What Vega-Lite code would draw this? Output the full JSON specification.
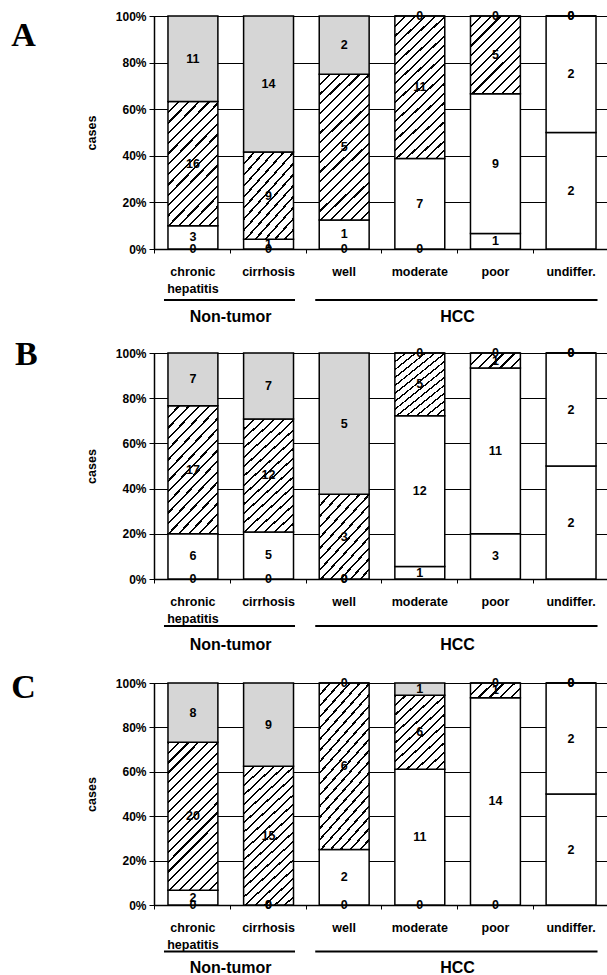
{
  "$schema": "https://vega.github.io/schema/vega-lite/v6.json",
  "padding": {"left": 10, "top": 9, "right": 0, "bottom": 0},
  "background": "white",
  "params": [
    {"name": "hT", "value": {"gradient": "linear", "x1": 0, "y1": 0, "x2": 1.19, "y2": 0.358, "stops": [
      {"offset": 0, "color": "#000"}, {"offset": 0.0367, "color": "#000"}, {"offset": 0.0367, "color": "#fff"}, {"offset": 0.1667, "color": "#fff"},
      {"offset": 0.1667, "color": "#000"}, {"offset": 0.2033, "color": "#000"}, {"offset": 0.2033, "color": "#fff"}, {"offset": 0.3333, "color": "#fff"},
      {"offset": 0.3333, "color": "#000"}, {"offset": 0.37, "color": "#000"}, {"offset": 0.37, "color": "#fff"}, {"offset": 0.5, "color": "#fff"},
      {"offset": 0.5, "color": "#000"}, {"offset": 0.5367, "color": "#000"}, {"offset": 0.5367, "color": "#fff"}, {"offset": 0.6667, "color": "#fff"},
      {"offset": 0.6667, "color": "#000"}, {"offset": 0.7033, "color": "#000"}, {"offset": 0.7033, "color": "#fff"}, {"offset": 0.8333, "color": "#fff"},
      {"offset": 0.8333, "color": "#000"}, {"offset": 0.87, "color": "#000"}, {"offset": 0.87, "color": "#fff"}, {"offset": 1, "color": "#fff"}]}},
    {"name": "hM", "value": {"gradient": "linear", "x1": 0, "y1": 0, "x2": 0.746, "y2": 1.163, "stops": [
      {"offset": 0, "color": "#000"}, {"offset": 0.0169, "color": "#000"}, {"offset": 0.0169, "color": "#fff"}, {"offset": 0.0769, "color": "#fff"},
      {"offset": 0.0769, "color": "#000"}, {"offset": 0.0938, "color": "#000"}, {"offset": 0.0938, "color": "#fff"}, {"offset": 0.1538, "color": "#fff"},
      {"offset": 0.1538, "color": "#000"}, {"offset": 0.1707, "color": "#000"}, {"offset": 0.1707, "color": "#fff"}, {"offset": 0.2308, "color": "#fff"},
      {"offset": 0.2308, "color": "#000"}, {"offset": 0.2477, "color": "#000"}, {"offset": 0.2477, "color": "#fff"}, {"offset": 0.3077, "color": "#fff"},
      {"offset": 0.3077, "color": "#000"}, {"offset": 0.3246, "color": "#000"}, {"offset": 0.3246, "color": "#fff"}, {"offset": 0.3846, "color": "#fff"},
      {"offset": 0.3846, "color": "#000"}, {"offset": 0.4015, "color": "#000"}, {"offset": 0.4015, "color": "#fff"}, {"offset": 0.4615, "color": "#fff"},
      {"offset": 0.4615, "color": "#000"}, {"offset": 0.4784, "color": "#000"}, {"offset": 0.4784, "color": "#fff"}, {"offset": 0.5385, "color": "#fff"},
      {"offset": 0.5385, "color": "#000"}, {"offset": 0.5554, "color": "#000"}, {"offset": 0.5554, "color": "#fff"}, {"offset": 0.6154, "color": "#fff"},
      {"offset": 0.6154, "color": "#000"}, {"offset": 0.6323, "color": "#000"}, {"offset": 0.6323, "color": "#fff"}, {"offset": 0.6923, "color": "#fff"},
      {"offset": 0.6923, "color": "#000"}, {"offset": 0.7092, "color": "#000"}, {"offset": 0.7092, "color": "#fff"}, {"offset": 0.7692, "color": "#fff"},
      {"offset": 0.7692, "color": "#000"}, {"offset": 0.7861, "color": "#000"}, {"offset": 0.7861, "color": "#fff"}, {"offset": 0.8462, "color": "#fff"},
      {"offset": 0.8462, "color": "#000"}, {"offset": 0.8631, "color": "#000"}, {"offset": 0.8631, "color": "#fff"}, {"offset": 0.9231, "color": "#fff"},
      {"offset": 0.9231, "color": "#000"}, {"offset": 0.94, "color": "#000"}, {"offset": 0.94, "color": "#fff"}, {"offset": 1, "color": "#fff"}]}},
    {"name": "hL", "value": {"gradient": "linear", "x1": 0, "y1": 0, "x2": 0.495, "y2": 1.207, "stops": [
      {"offset": 0, "color": "#000"}, {"offset": 0.0129, "color": "#000"}, {"offset": 0.0129, "color": "#fff"}, {"offset": 0.0588, "color": "#fff"},
      {"offset": 0.0588, "color": "#000"}, {"offset": 0.0718, "color": "#000"}, {"offset": 0.0718, "color": "#fff"}, {"offset": 0.1176, "color": "#fff"},
      {"offset": 0.1176, "color": "#000"}, {"offset": 0.1306, "color": "#000"}, {"offset": 0.1306, "color": "#fff"}, {"offset": 0.1765, "color": "#fff"},
      {"offset": 0.1765, "color": "#000"}, {"offset": 0.1894, "color": "#000"}, {"offset": 0.1894, "color": "#fff"}, {"offset": 0.2353, "color": "#fff"},
      {"offset": 0.2353, "color": "#000"}, {"offset": 0.2482, "color": "#000"}, {"offset": 0.2482, "color": "#fff"}, {"offset": 0.2941, "color": "#fff"},
      {"offset": 0.2941, "color": "#000"}, {"offset": 0.3071, "color": "#000"}, {"offset": 0.3071, "color": "#fff"}, {"offset": 0.3529, "color": "#fff"},
      {"offset": 0.3529, "color": "#000"}, {"offset": 0.3659, "color": "#000"}, {"offset": 0.3659, "color": "#fff"}, {"offset": 0.4118, "color": "#fff"},
      {"offset": 0.4118, "color": "#000"}, {"offset": 0.4247, "color": "#000"}, {"offset": 0.4247, "color": "#fff"}, {"offset": 0.4706, "color": "#fff"},
      {"offset": 0.4706, "color": "#000"}, {"offset": 0.4835, "color": "#000"}, {"offset": 0.4835, "color": "#fff"}, {"offset": 0.5294, "color": "#fff"},
      {"offset": 0.5294, "color": "#000"}, {"offset": 0.5424, "color": "#000"}, {"offset": 0.5424, "color": "#fff"}, {"offset": 0.5882, "color": "#fff"},
      {"offset": 0.5882, "color": "#000"}, {"offset": 0.6012, "color": "#000"}, {"offset": 0.6012, "color": "#fff"}, {"offset": 0.6471, "color": "#fff"},
      {"offset": 0.6471, "color": "#000"}, {"offset": 0.66, "color": "#000"}, {"offset": 0.66, "color": "#fff"}, {"offset": 0.7059, "color": "#fff"},
      {"offset": 0.7059, "color": "#000"}, {"offset": 0.7188, "color": "#000"}, {"offset": 0.7188, "color": "#fff"}, {"offset": 0.7647, "color": "#fff"},
      {"offset": 0.7647, "color": "#000"}, {"offset": 0.7776, "color": "#000"}, {"offset": 0.7776, "color": "#fff"}, {"offset": 0.8235, "color": "#fff"},
      {"offset": 0.8235, "color": "#000"}, {"offset": 0.8365, "color": "#000"}, {"offset": 0.8365, "color": "#fff"}, {"offset": 0.8824, "color": "#fff"},
      {"offset": 0.8824, "color": "#000"}, {"offset": 0.8953, "color": "#000"}, {"offset": 0.8953, "color": "#fff"}, {"offset": 0.9412, "color": "#fff"},
      {"offset": 0.9412, "color": "#000"}, {"offset": 0.9541, "color": "#000"}, {"offset": 0.9541, "color": "#fff"}, {"offset": 1, "color": "#fff"}]}},
    {"name": "hX", "value": {"gradient": "linear", "x1": 0, "y1": 0, "x2": 0.406, "y2": 1.201, "stops": [
      {"offset": 0, "color": "#000"}, {"offset": 0.011, "color": "#000"}, {"offset": 0.011, "color": "#fff"}, {"offset": 0.05, "color": "#fff"},
      {"offset": 0.05, "color": "#000"}, {"offset": 0.061, "color": "#000"}, {"offset": 0.061, "color": "#fff"}, {"offset": 0.1, "color": "#fff"},
      {"offset": 0.1, "color": "#000"}, {"offset": 0.111, "color": "#000"}, {"offset": 0.111, "color": "#fff"}, {"offset": 0.15, "color": "#fff"},
      {"offset": 0.15, "color": "#000"}, {"offset": 0.161, "color": "#000"}, {"offset": 0.161, "color": "#fff"}, {"offset": 0.2, "color": "#fff"},
      {"offset": 0.2, "color": "#000"}, {"offset": 0.211, "color": "#000"}, {"offset": 0.211, "color": "#fff"}, {"offset": 0.25, "color": "#fff"},
      {"offset": 0.25, "color": "#000"}, {"offset": 0.261, "color": "#000"}, {"offset": 0.261, "color": "#fff"}, {"offset": 0.3, "color": "#fff"},
      {"offset": 0.3, "color": "#000"}, {"offset": 0.311, "color": "#000"}, {"offset": 0.311, "color": "#fff"}, {"offset": 0.35, "color": "#fff"},
      {"offset": 0.35, "color": "#000"}, {"offset": 0.361, "color": "#000"}, {"offset": 0.361, "color": "#fff"}, {"offset": 0.4, "color": "#fff"},
      {"offset": 0.4, "color": "#000"}, {"offset": 0.411, "color": "#000"}, {"offset": 0.411, "color": "#fff"}, {"offset": 0.45, "color": "#fff"},
      {"offset": 0.45, "color": "#000"}, {"offset": 0.461, "color": "#000"}, {"offset": 0.461, "color": "#fff"}, {"offset": 0.5, "color": "#fff"},
      {"offset": 0.5, "color": "#000"}, {"offset": 0.511, "color": "#000"}, {"offset": 0.511, "color": "#fff"}, {"offset": 0.55, "color": "#fff"},
      {"offset": 0.55, "color": "#000"}, {"offset": 0.561, "color": "#000"}, {"offset": 0.561, "color": "#fff"}, {"offset": 0.6, "color": "#fff"},
      {"offset": 0.6, "color": "#000"}, {"offset": 0.611, "color": "#000"}, {"offset": 0.611, "color": "#fff"}, {"offset": 0.65, "color": "#fff"},
      {"offset": 0.65, "color": "#000"}, {"offset": 0.661, "color": "#000"}, {"offset": 0.661, "color": "#fff"}, {"offset": 0.7, "color": "#fff"},
      {"offset": 0.7, "color": "#000"}, {"offset": 0.711, "color": "#000"}, {"offset": 0.711, "color": "#fff"}, {"offset": 0.75, "color": "#fff"},
      {"offset": 0.75, "color": "#000"}, {"offset": 0.761, "color": "#000"}, {"offset": 0.761, "color": "#fff"}, {"offset": 0.8, "color": "#fff"},
      {"offset": 0.8, "color": "#000"}, {"offset": 0.811, "color": "#000"}, {"offset": 0.811, "color": "#fff"}, {"offset": 0.85, "color": "#fff"},
      {"offset": 0.85, "color": "#000"}, {"offset": 0.861, "color": "#000"}, {"offset": 0.861, "color": "#fff"}, {"offset": 0.9, "color": "#fff"},
      {"offset": 0.9, "color": "#000"}, {"offset": 0.911, "color": "#000"}, {"offset": 0.911, "color": "#fff"}, {"offset": 0.95, "color": "#fff"},
      {"offset": 0.95, "color": "#000"}, {"offset": 0.961, "color": "#000"}, {"offset": 0.961, "color": "#fff"}, {"offset": 1, "color": "#fff"}]}}
  ],
  "datasets": {
    "counts": [
      {"panel": "A", "cat": "chronic hepatitis", "lv": 0, "n": 0}, {"panel": "A", "cat": "chronic hepatitis", "lv": 1, "n": 3}, {"panel": "A", "cat": "chronic hepatitis", "lv": 2, "n": 16}, {"panel": "A", "cat": "chronic hepatitis", "lv": 3, "n": 11},
      {"panel": "A", "cat": "cirrhosis", "lv": 0, "n": 0}, {"panel": "A", "cat": "cirrhosis", "lv": 1, "n": 1}, {"panel": "A", "cat": "cirrhosis", "lv": 2, "n": 9}, {"panel": "A", "cat": "cirrhosis", "lv": 3, "n": 14},
      {"panel": "A", "cat": "well", "lv": 0, "n": 0}, {"panel": "A", "cat": "well", "lv": 1, "n": 1}, {"panel": "A", "cat": "well", "lv": 2, "n": 5}, {"panel": "A", "cat": "well", "lv": 3, "n": 2},
      {"panel": "A", "cat": "moderate", "lv": 0, "n": 0}, {"panel": "A", "cat": "moderate", "lv": 1, "n": 7}, {"panel": "A", "cat": "moderate", "lv": 2, "n": 11}, {"panel": "A", "cat": "moderate", "lv": 3, "n": 0},
      {"panel": "A", "cat": "poor", "lv": 0, "n": 1}, {"panel": "A", "cat": "poor", "lv": 1, "n": 9}, {"panel": "A", "cat": "poor", "lv": 2, "n": 5}, {"panel": "A", "cat": "poor", "lv": 3, "n": 0},
      {"panel": "A", "cat": "undiffer.", "lv": 0, "n": 2}, {"panel": "A", "cat": "undiffer.", "lv": 1, "n": 2}, {"panel": "A", "cat": "undiffer.", "lv": 2, "n": 0}, {"panel": "A", "cat": "undiffer.", "lv": 3, "n": 0},
      {"panel": "B", "cat": "chronic hepatitis", "lv": 0, "n": 0}, {"panel": "B", "cat": "chronic hepatitis", "lv": 1, "n": 6}, {"panel": "B", "cat": "chronic hepatitis", "lv": 2, "n": 17}, {"panel": "B", "cat": "chronic hepatitis", "lv": 3, "n": 7},
      {"panel": "B", "cat": "cirrhosis", "lv": 0, "n": 0}, {"panel": "B", "cat": "cirrhosis", "lv": 1, "n": 5}, {"panel": "B", "cat": "cirrhosis", "lv": 2, "n": 12}, {"panel": "B", "cat": "cirrhosis", "lv": 3, "n": 7},
      {"panel": "B", "cat": "well", "lv": 0, "n": 0}, {"panel": "B", "cat": "well", "lv": 1, "n": 0}, {"panel": "B", "cat": "well", "lv": 2, "n": 3}, {"panel": "B", "cat": "well", "lv": 3, "n": 5},
      {"panel": "B", "cat": "moderate", "lv": 0, "n": 1}, {"panel": "B", "cat": "moderate", "lv": 1, "n": 12}, {"panel": "B", "cat": "moderate", "lv": 2, "n": 5}, {"panel": "B", "cat": "moderate", "lv": 3, "n": 0},
      {"panel": "B", "cat": "poor", "lv": 0, "n": 3}, {"panel": "B", "cat": "poor", "lv": 1, "n": 11}, {"panel": "B", "cat": "poor", "lv": 2, "n": 1}, {"panel": "B", "cat": "poor", "lv": 3, "n": 0},
      {"panel": "B", "cat": "undiffer.", "lv": 0, "n": 2}, {"panel": "B", "cat": "undiffer.", "lv": 1, "n": 2}, {"panel": "B", "cat": "undiffer.", "lv": 2, "n": 0}, {"panel": "B", "cat": "undiffer.", "lv": 3, "n": 0},
      {"panel": "C", "cat": "chronic hepatitis", "lv": 0, "n": 0}, {"panel": "C", "cat": "chronic hepatitis", "lv": 1, "n": 2}, {"panel": "C", "cat": "chronic hepatitis", "lv": 2, "n": 20}, {"panel": "C", "cat": "chronic hepatitis", "lv": 3, "n": 8},
      {"panel": "C", "cat": "cirrhosis", "lv": 0, "n": 0}, {"panel": "C", "cat": "cirrhosis", "lv": 1, "n": 0}, {"panel": "C", "cat": "cirrhosis", "lv": 2, "n": 15}, {"panel": "C", "cat": "cirrhosis", "lv": 3, "n": 9},
      {"panel": "C", "cat": "well", "lv": 0, "n": 0}, {"panel": "C", "cat": "well", "lv": 1, "n": 2}, {"panel": "C", "cat": "well", "lv": 2, "n": 6}, {"panel": "C", "cat": "well", "lv": 3, "n": 0},
      {"panel": "C", "cat": "moderate", "lv": 0, "n": 0}, {"panel": "C", "cat": "moderate", "lv": 1, "n": 11}, {"panel": "C", "cat": "moderate", "lv": 2, "n": 6}, {"panel": "C", "cat": "moderate", "lv": 3, "n": 1},
      {"panel": "C", "cat": "poor", "lv": 0, "n": 0}, {"panel": "C", "cat": "poor", "lv": 1, "n": 14}, {"panel": "C", "cat": "poor", "lv": 2, "n": 1}, {"panel": "C", "cat": "poor", "lv": 3, "n": 0},
      {"panel": "C", "cat": "undiffer.", "lv": 0, "n": 2}, {"panel": "C", "cat": "undiffer.", "lv": 1, "n": 2}, {"panel": "C", "cat": "undiffer.", "lv": 2, "n": 0}, {"panel": "C", "cat": "undiffer.", "lv": 3, "n": 0}
    ],
    "groups": [
      {"group": "Non-tumor", "first": "chronic hepatitis", "last": "cirrhosis", "mid": "cirrhosis"},
      {"group": "HCC", "first": "well", "last": "undiffer.", "mid": "poor"}
    ]
  },
  "data": {"name": "counts"},
  "transform": [
    {"joinaggregate": [{"op": "sum", "field": "n", "as": "total"}], "groupby": ["panel", "cat"]},
    {"calculate": "datum.n / datum.total", "as": "frac"},
    {"stack": "n", "groupby": ["panel", "cat"], "sort": [{"field": "lv", "order": "ascending"}], "offset": "normalize", "as": ["y0", "y1"]},
    {"calculate": "(datum.y0 + datum.y1) / 2", "as": "ymid"}
  ],
  "spacing": 104,
  "bounds": "flush",
  "vconcat": [
    {
      "title": {"text": "A", "dy": 3},
      "width": 453,
      "height": 233,
      "layer": [
        {
          "transform": [{"filter": "datum.panel == 'A'"}],
          "encoding": {
            "x": {"field": "cat", "type": "nominal", "title": null, "sort": null,
              "scale": {"domain": ["chronic hepatitis", "cirrhosis", "well", "moderate", "poor", "undiffer."], "paddingInner": 0.34, "paddingOuter": 0.165, "align": 0.56},
              "axis": {"labelExpr": "datum.value == 'chronic hepatitis' ? ['chronic', 'hepatitis'] : datum.label", "labelOverlap": false}}
          },
          "layer": [
            {
              "mark": {"type": "bar", "stroke": "#000", "strokeWidth": 1.5},
              "encoding": {
                "y": {"field": "y0", "type": "quantitative", "title": "cases", "scale": {"domain": [0, 1], "nice": false}, "axis": {"format": "%", "values": [0, 0.2, 0.4, 0.6, 0.8, 1]}},
                "y2": {"field": "y1"},
                "fill": {"value": {"expr": "datum.lv == 3 ? '#d6d6d6' : datum.lv != 2 ? '#ffffff' : datum.frac < 0.15 ? hT : datum.frac < 0.45 ? hM : datum.frac < 0.6 ? hL : hX"}}
              }
            },
            {
              "mark": {"type": "text", "fontSize": 12.5, "fontWeight": "bold", "color": "#000", "baseline": "middle"},
              "encoding": {
                "y": {"field": "ymid", "type": "quantitative", "title": "cases"},
                "text": {"field": "n", "type": "quantitative"}
              }
            }
          ]
        },
        {
          "data": {"name": "groups"},
          "mark": {"type": "rule", "strokeWidth": 2, "color": "#000"},
          "encoding": {
            "x": {"field": "first", "type": "nominal", "title": null, "bandPosition": -0.08},
            "x2": {"field": "last", "bandPosition": 1.03},
            "y": {"datum": -0.219, "type": "quantitative"}
          }
        },
        {
          "data": {"name": "groups"},
          "mark": {"type": "text", "fontSize": 16, "fontWeight": "bold", "color": "#000", "baseline": "middle"},
          "encoding": {
            "x": {"field": "mid", "type": "nominal", "title": null, "bandPosition": -0.26},
            "y": {"datum": -0.292, "type": "quantitative"},
            "text": {"field": "group"}
          }
        }
      ]
    },
    {
      "title": {"text": "B", "dy": -15},
      "width": 453,
      "height": 226,
      "layer": [
        {
          "transform": [{"filter": "datum.panel == 'B'"}],
          "encoding": {
            "x": {"field": "cat", "type": "nominal", "title": null, "sort": null,
              "scale": {"domain": ["chronic hepatitis", "cirrhosis", "well", "moderate", "poor", "undiffer."], "paddingInner": 0.34, "paddingOuter": 0.165, "align": 0.56},
              "axis": {"labelExpr": "datum.value == 'chronic hepatitis' ? ['chronic', 'hepatitis'] : datum.label", "labelOverlap": false}}
          },
          "layer": [
            {
              "mark": {"type": "bar", "stroke": "#000", "strokeWidth": 1.5},
              "encoding": {
                "y": {"field": "y0", "type": "quantitative", "title": "cases", "scale": {"domain": [0, 1], "nice": false}, "axis": {"format": "%", "values": [0, 0.2, 0.4, 0.6, 0.8, 1]}},
                "y2": {"field": "y1"},
                "fill": {"value": {"expr": "datum.lv == 3 ? '#d6d6d6' : datum.lv != 2 ? '#ffffff' : datum.frac < 0.15 ? hT : datum.frac < 0.45 ? hM : datum.frac < 0.6 ? hL : hX"}}
              }
            },
            {
              "mark": {"type": "text", "fontSize": 12.5, "fontWeight": "bold", "color": "#000", "baseline": "middle"},
              "encoding": {
                "y": {"field": "ymid", "type": "quantitative", "title": "cases"},
                "text": {"field": "n", "type": "quantitative"}
              }
            }
          ]
        },
        {
          "data": {"name": "groups"},
          "mark": {"type": "rule", "strokeWidth": 2, "color": "#000"},
          "encoding": {
            "x": {"field": "first", "type": "nominal", "title": null, "bandPosition": -0.08},
            "x2": {"field": "last", "bandPosition": 1.03},
            "y": {"datum": -0.208, "type": "quantitative"}
          }
        },
        {
          "data": {"name": "groups"},
          "mark": {"type": "text", "fontSize": 16, "fontWeight": "bold", "color": "#000", "baseline": "middle"},
          "encoding": {
            "x": {"field": "mid", "type": "nominal", "title": null, "bandPosition": -0.26},
            "y": {"datum": -0.292, "type": "quantitative"},
            "text": {"field": "group"}
          }
        }
      ]
    },
    {
      "title": {"text": "C", "dy": -12},
      "width": 453,
      "height": 222,
      "layer": [
        {
          "transform": [{"filter": "datum.panel == 'C'"}],
          "encoding": {
            "x": {"field": "cat", "type": "nominal", "title": null, "sort": null,
              "scale": {"domain": ["chronic hepatitis", "cirrhosis", "well", "moderate", "poor", "undiffer."], "paddingInner": 0.34, "paddingOuter": 0.165, "align": 0.56},
              "axis": {"labelExpr": "datum.value == 'chronic hepatitis' ? ['chronic', 'hepatitis'] : datum.label", "labelOverlap": false}}
          },
          "layer": [
            {
              "mark": {"type": "bar", "stroke": "#000", "strokeWidth": 1.5},
              "encoding": {
                "y": {"field": "y0", "type": "quantitative", "title": "cases", "scale": {"domain": [0, 1], "nice": false}, "axis": {"format": "%", "values": [0, 0.2, 0.4, 0.6, 0.8, 1]}},
                "y2": {"field": "y1"},
                "fill": {"value": {"expr": "datum.lv == 3 ? '#d6d6d6' : datum.lv != 2 ? '#ffffff' : datum.frac < 0.15 ? hT : datum.frac < 0.45 ? hM : datum.frac < 0.6 ? hL : hX"}}
              }
            },
            {
              "mark": {"type": "text", "fontSize": 12.5, "fontWeight": "bold", "color": "#000", "baseline": "middle"},
              "encoding": {
                "y": {"field": "ymid", "type": "quantitative", "title": "cases"},
                "text": {"field": "n", "type": "quantitative"}
              }
            }
          ]
        },
        {
          "data": {"name": "groups"},
          "mark": {"type": "rule", "strokeWidth": 2, "color": "#000"},
          "encoding": {
            "x": {"field": "first", "type": "nominal", "title": null, "bandPosition": -0.08},
            "x2": {"field": "last", "bandPosition": 1.03},
            "y": {"datum": -0.21, "type": "quantitative"}
          }
        },
        {
          "data": {"name": "groups"},
          "mark": {"type": "text", "fontSize": 16, "fontWeight": "bold", "color": "#000", "baseline": "middle"},
          "encoding": {
            "x": {"field": "mid", "type": "nominal", "title": null, "bandPosition": -0.26},
            "y": {"datum": -0.283, "type": "quantitative"},
            "text": {"field": "group"}
          }
        }
      ]
    }
  ],
  "config": {
    "font": "Liberation Sans",
    "view": {"stroke": "#000", "strokeWidth": 1},
    "axis": {"domainColor": "#000", "tickColor": "#000", "labelColor": "#000", "titleColor": "#000", "labelFontWeight": "bold", "titleFontWeight": "bold", "labelFont": "Liberation Sans", "titleFont": "Liberation Sans"},
    "axisX": {"grid": false, "domainWidth": 1.5, "tickSize": 4, "labelFontSize": 12.5, "labelPadding": 12, "labelLineHeight": 17, "labelAngle": 0, "bandPosition": -0.26},
    "axisY": {"grid": true, "gridColor": "#000", "gridOpacity": 1, "gridWidth": 1, "domainWidth": 1.5, "tickSize": 5, "labelFontSize": 12, "labelPadding": 3, "titleFontSize": 12.5, "titlePadding": 17},
    "title": {"font": "Liberation Serif", "fontSize": 34, "fontWeight": "bold", "orient": "left", "anchor": "end", "angle": 0, "align": "right", "baseline": "top", "offset": 25, "frame": "group", "color": "#000"},
    "text": {"font": "Liberation Sans"}
  }
}
